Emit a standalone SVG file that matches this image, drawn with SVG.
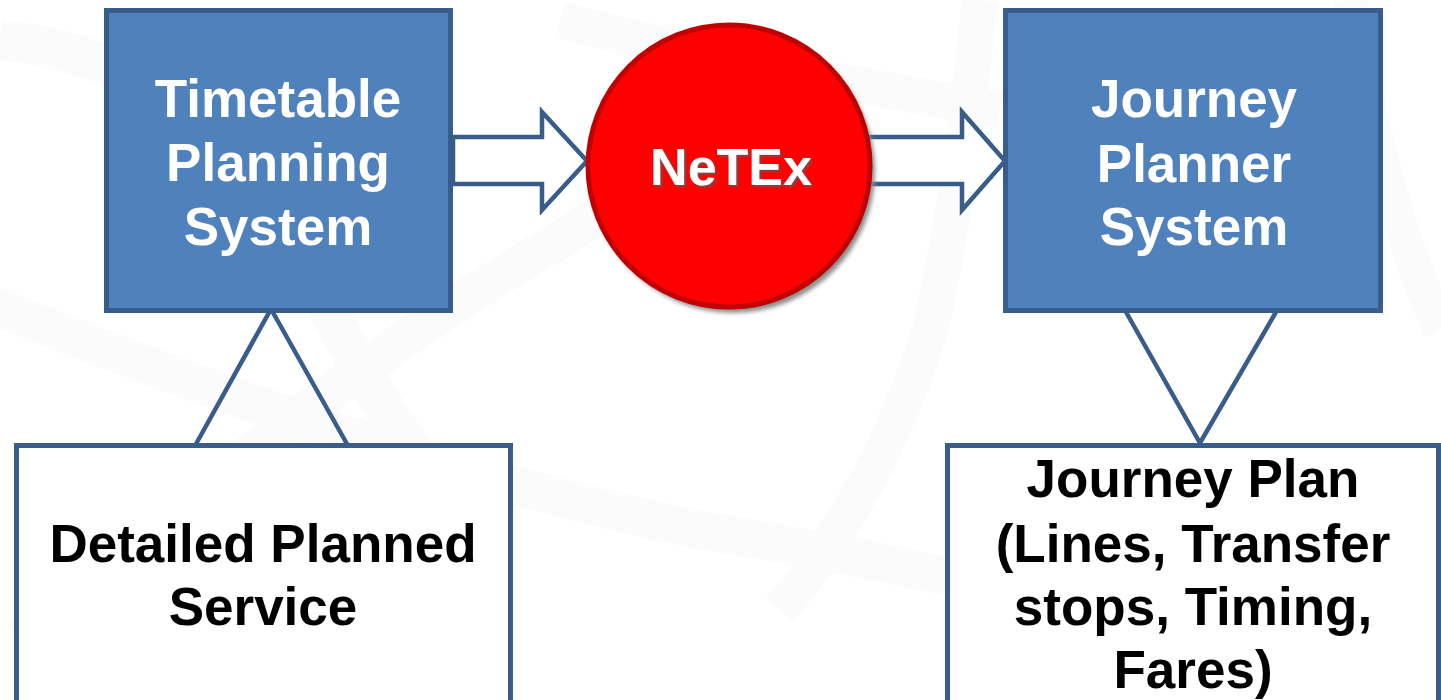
<svg xmlns="http://www.w3.org/2000/svg" width="1441" height="700" viewBox="0 0 1441 700">
  <defs>
    <style>
      .sys { fill: #4F81BD; stroke: #385D8A; stroke-width: 5; }
      .doc { fill: #FFFFFF; stroke: #385D8A; stroke-width: 5; }
      .link { fill: none; stroke: #385D8A; stroke-width: 4.5; stroke-linejoin: miter; }
      .flow { fill: #FFFFFF; stroke: #385D8A; stroke-width: 4.5; stroke-linejoin: miter; }
      .wm { fill: none; stroke: #FBFBFB; stroke-linecap: butt; }
      .lbl { font-family: "Liberation Sans", Arial, sans-serif; font-weight: bold; font-size: 53px; text-anchor: middle; }
      .white { fill: #FFFFFF; }
      .black { fill: #000000; }
    </style>
    <filter id="soft" x="-10%" y="-10%" width="130%" height="130%">
      <feGaussianBlur stdDeviation="2"/>
    </filter>
    <filter id="textShadow" x="-10%" y="-30%" width="130%" height="160%">
      <feDropShadow dx="2" dy="2" stdDeviation="1.2" flood-color="#5A5A5A" flood-opacity="0.8"/>
    </filter>
  </defs>

  <rect width="1441" height="700" fill="#FFFFFF"/>

  <!-- faint watermark swooshes in the background -->
  <g id="watermark">
    <path class="wm" stroke-width="40" d="M 0 40 Q 200 60 300 250 Q 360 380 420 460"/>
    <path class="wm" stroke-width="38" d="M -20 300 Q 400 470 700 530 Q 880 560 960 580"/>
    <path class="wm" stroke-width="38" d="M 20 640 Q 350 360 560 240 Q 680 160 740 100"/>
    <path class="wm" stroke-width="36" d="M 780 610 Q 880 490 930 330 Q 960 200 980 0"/>
    <path class="wm" stroke-width="36" d="M 560 20 Q 760 70 1000 110"/>
    <path class="wm" stroke-width="34" d="M 1441 330 Q 1380 200 1350 0"/>
  </g>

  <!-- connectors: flow arrows and hanging triangles -->
  <g id="connectors">
    <polygon class="flow" points="453,137 542,137 542,112 587,161 542,210 542,184 453,184"/>
    <polygon class="flow" points="866,137 962,137 962,112 1005,161 962,210 962,184 866,184"/>
    <polyline class="link" points="196,444 271,309 347,444"/>
    <polyline class="link" points="1126,312 1200,443 1276,312"/>
  </g>

  <g id="timetable-planning">
    <rect class="sys" x="106.5" y="10.5" width="344" height="300"/>
    <text class="lbl white" x="278" y="117">Timetable</text>
    <text class="lbl white" x="278" y="181">Planning</text>
    <text class="lbl white" x="278" y="245">System</text>
  </g>

  <g id="netex">
    <circle cx="733" cy="171" r="142" fill="#8C8C8C" filter="url(#soft)"/>
    <circle cx="729" cy="166" r="141" fill="#FF0000" stroke="#C00000" stroke-width="5"/>
    <text class="lbl white" x="731" y="185" style="font-size:52px" filter="url(#textShadow)">NeTEx</text>
  </g>

  <g id="journey-planner">
    <rect class="sys" x="1005.5" y="10.5" width="375" height="300"/>
    <text class="lbl white" x="1194" y="117">Journey</text>
    <text class="lbl white" x="1194" y="182">Planner</text>
    <text class="lbl white" x="1194" y="245">System</text>
  </g>

  <g id="detailed-planned-service">
    <rect class="doc" x="16.5" y="445.5" width="494" height="300"/>
    <text class="lbl black" x="263" y="562">Detailed Planned</text>
    <text class="lbl black" x="263" y="625">Service</text>
  </g>

  <g id="journey-plan">
    <rect class="doc" x="947.5" y="445.5" width="491" height="300"/>
    <text class="lbl black" x="1193" y="497">Journey Plan</text>
    <text class="lbl black" x="1193" y="562">(Lines, Transfer</text>
    <text class="lbl black" x="1193" y="625">stops, Timing,</text>
    <text class="lbl black" x="1193" y="688">Fares)</text>
  </g>
</svg>
